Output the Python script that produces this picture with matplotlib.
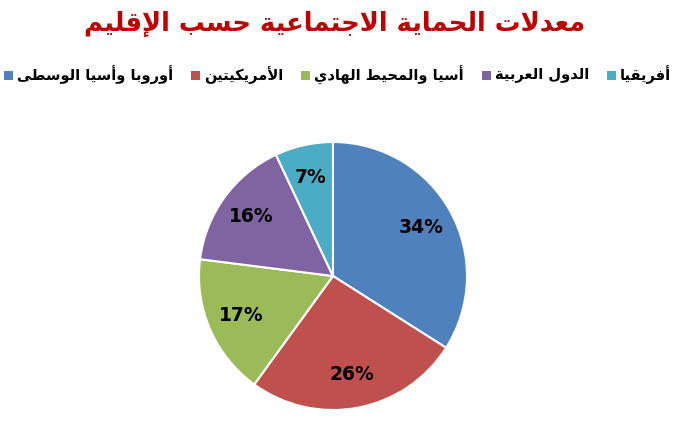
import matplotlib
matplotlib.use("Agg")
import matplotlib.pyplot as plt
from matplotlib.patches import Rectangle

# ---- data ----
title = "معدلات الحماية الاجتماعية حسب الإقليم"
regions = ["أوروبا وأسيا الوسطى", "الأمريكيتين", "أسيا والمحيط الهادي", "الدول العربية", "أفريقيا"]
shares = [34, 26, 17, 16, 7]
colors = ["#4F81BD", "#C0504D", "#9BBB59", "#8064A2", "#4BACC6"]

# ---- minimal Arabic shaping (presentation forms) + visual order ----
FORMS = {  # iso, fin, ini, med
    'ا': (0xFE8D, 0xFE8E, None, None), 'أ': (0xFE83, 0xFE84, None, None),
    'إ': (0xFE87, 0xFE88, None, None), 'آ': (0xFE81, 0xFE82, None, None),
    'ب': (0xFE8F, 0xFE90, 0xFE91, 0xFE92), 'ة': (0xFE93, 0xFE94, None, None),
    'ت': (0xFE95, 0xFE96, 0xFE97, 0xFE98), 'ج': (0xFE9D, 0xFE9E, 0xFE9F, 0xFEA0),
    'ح': (0xFEA1, 0xFEA2, 0xFEA3, 0xFEA4), 'د': (0xFEA9, 0xFEAA, None, None),
    'ر': (0xFEAD, 0xFEAE, None, None), 'س': (0xFEB1, 0xFEB2, 0xFEB3, 0xFEB4),
    'ط': (0xFEC1, 0xFEC2, 0xFEC3, 0xFEC4), 'ع': (0xFEC9, 0xFECA, 0xFECB, 0xFECC),
    'ف': (0xFED1, 0xFED2, 0xFED3, 0xFED4), 'ق': (0xFED5, 0xFED6, 0xFED7, 0xFED8),
    'ك': (0xFED9, 0xFEDA, 0xFEDB, 0xFEDC), 'ل': (0xFEDD, 0xFEDE, 0xFEDF, 0xFEE0),
    'م': (0xFEE1, 0xFEE2, 0xFEE3, 0xFEE4), 'ن': (0xFEE5, 0xFEE6, 0xFEE7, 0xFEE8),
    'ه': (0xFEE9, 0xFEEA, 0xFEEB, 0xFEEC), 'و': (0xFEED, 0xFEEE, None, None),
    'ى': (0xFEEF, 0xFEF0, None, None), 'ي': (0xFEF1, 0xFEF2, 0xFEF3, 0xFEF4),
}
LAMALEF = {'آ': (0xFEF5, 0xFEF6), 'أ': (0xFEF7, 0xFEF8), 'إ': (0xFEF9, 0xFEFA), 'ا': (0xFEFB, 0xFEFC)}


def dual(c):
    return c in FORMS and FORMS[c][2] is not None


def shape(s):
    out = []
    i = 0
    n = len(s)
    while i < n:
        c = s[i]
        if c not in FORMS:
            out.append(c)
            i += 1
            continue
        prev_j = i > 0 and dual(s[i - 1])
        if c == 'ل' and i + 1 < n and s[i + 1] in LAMALEF:
            iso, fin = LAMALEF[s[i + 1]]
            out.append(chr(fin if prev_j else iso))
            i += 2
            continue
        next_j = dual(c) and i + 1 < n and s[i + 1] in FORMS
        iso, fin, ini, med = FORMS[c]
        if prev_j and next_j:
            f = med
        elif next_j:
            f = ini
        elif prev_j:
            f = fin
        else:
            f = iso
        out.append(chr(f))
        i += 1
    return ''.join(reversed(out))


plt.rcParams['font.family'] = ['DejaVu Sans']

W, H = 675, 421
fig = plt.figure(figsize=(6.75, 4.21), dpi=100)
fig.patch.set_facecolor('white')

fig.text(335 / W, 1 - 24 / H, shape(title), ha='center', va='center',
         fontsize=18.5, fontweight='bold', color='#C00000')

ax = fig.add_axes([0.2948, 0.0261, 0.397, 0.6366])
wedges, texts, autotexts = ax.pie(
    shares, colors=colors, startangle=90, counterclock=False,
    autopct='%d%%', pctdistance=0.75,
    wedgeprops=dict(edgecolor='white', linewidth=1.5),
    textprops=dict(fontsize=13.5, fontweight='bold', color='black'))
ax.set_aspect('equal')
ax.set_xlim(-1.0, 1.0)
ax.set_ylim(-1.0, 1.0)

# legend: square left of each label, one row spread from x=4 to x=671 px
ly = 75
sq, pad = 9, 4
renderer = fig.canvas.get_renderer()
labels = []
for lab in regions:
    t = fig.text(0, 1 - ly / H, shape(lab), ha='left', va='center',
                 fontsize=10.5, fontweight='bold', color='black')
    labels.append(t)
widths = [t.get_window_extent(renderer).width for t in labels]
left, right = 4, 671
gap = (right - left - sum(widths) - len(widths) * (sq + pad)) / (len(widths) - 1)
x = left
for t, w, col in zip(labels, widths, colors):
    fig.patches.append(Rectangle((x / W, 1 - (ly + 5) / H), sq / W, sq / H,
                                 transform=fig.transFigure, facecolor=col,
                                 edgecolor='none'))
    t.set_x((x + sq + pad) / W)
    x += sq + pad + w + gap

fig.savefig('out.png', dpi=100, facecolor='white')
